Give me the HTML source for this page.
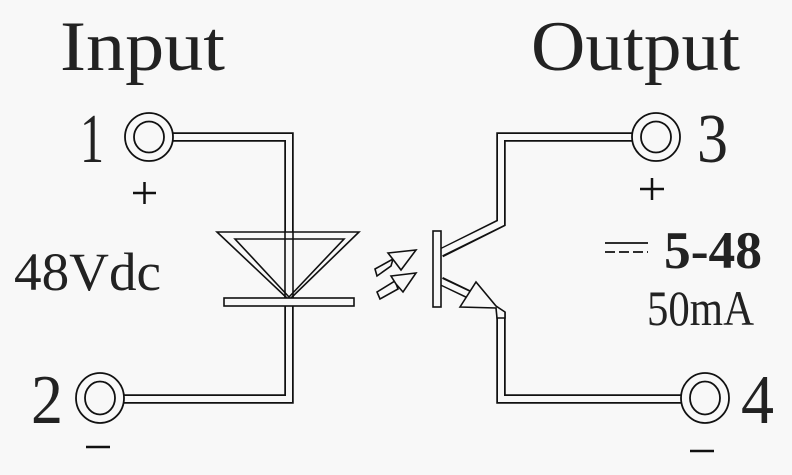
<!DOCTYPE html>
<html><head><meta charset="utf-8"><style>
html,body{margin:0;padding:0;background:#f8f8f8;}
svg{display:block}
text{fill:#222;}
</style></head><body>
<svg width="792" height="475" viewBox="0 0 792 475" xmlns="http://www.w3.org/2000/svg">
<rect width="792" height="475" fill="#f8f8f8"/>
<g font-family="Liberation Serif, serif">
<text x="60" y="70" font-size="71" textLength="165" lengthAdjust="spacingAndGlyphs">Input</text>
<text x="531" y="70" font-size="71" textLength="209" lengthAdjust="spacingAndGlyphs">Output</text>
<text x="80" y="162" font-size="70" textLength="24" lengthAdjust="spacingAndGlyphs">1</text>
<text x="697" y="162" font-size="70" textLength="31" lengthAdjust="spacingAndGlyphs">3</text>
<text x="31" y="423" font-size="70" textLength="32" lengthAdjust="spacingAndGlyphs">2</text>
<text x="741" y="423" font-size="70" textLength="33" lengthAdjust="spacingAndGlyphs">4</text>
<text x="14" y="290" font-size="54" textLength="147" lengthAdjust="spacingAndGlyphs">48Vdc</text>
<text x="664" y="268" font-size="53" font-weight="bold" textLength="98" lengthAdjust="spacingAndGlyphs">5-48</text>
<text x="647" y="325" font-size="50" textLength="107" lengthAdjust="spacingAndGlyphs">50mA</text>
</g>
<g stroke="#111" stroke-width="2.5">
<line x1="133" y1="193" x2="156" y2="193"/><line x1="144.5" y1="182" x2="144.5" y2="204"/>
<line x1="640" y1="189" x2="664" y2="189"/><line x1="652" y1="178" x2="652" y2="200"/>
<line x1="86" y1="447" x2="110" y2="447"/>
<line x1="690" y1="451" x2="714" y2="451"/>
<line x1="605" y1="243" x2="648" y2="243" stroke-width="1.8"/>
<line x1="605" y1="252" x2="648" y2="252" stroke-width="1.8" stroke-dasharray="10,4"/>
</g>
<g fill="none" stroke-linejoin="miter">
<g stroke="#111" stroke-width="9.5">
<polyline points="160,137 289,137 289,399 112,399"/>
<polyline points="644,137 501,137 501,223 441,253"/>
<polyline points="501,312 501,399 693,399"/>
<line x1="441" y1="281" x2="470" y2="295" stroke-width="9"/>
</g>
<g stroke="#f8f8f8" stroke-width="6">
<polyline points="160,137 289,137 289,399 112,399"/>
<polyline points="644,137 501,137 501,223 438,254"/>
<polyline points="501,312 501,399 693,399"/>
<line x1="438" y1="280" x2="472" y2="296" stroke-width="5.5"/>
</g>
</g>
<polygon points="217,232 359,232 289,300" fill="#f8f8f8" stroke="#111" stroke-width="1.6"/>
<polygon points="235,239 344,239 289,297" fill="#f8f8f8" stroke="#111" stroke-width="1.6"/>
<line x1="285" y1="232" x2="285" y2="298" stroke="#111" stroke-width="1.6"/>
<line x1="293" y1="232" x2="293" y2="298" stroke="#111" stroke-width="1.6"/>
<rect x="224" y="298" width="130" height="8" fill="#f8f8f8" stroke="#111" stroke-width="1.6"/>
<rect x="433" y="231" width="8" height="76" fill="#f8f8f8" stroke="#111" stroke-width="1.6"/>
<polygon points="460,307 476,282 496,306 505,312 505,318 497,318 496,308" fill="#f8f8f8" stroke="#111" stroke-width="1.6"/>
<g fill="#f8f8f8" stroke="#111" stroke-width="1.6" stroke-linejoin="miter">
<polygon points="375,269 393,259 391,266 377,276"/>
<polygon points="388,253 416,250 401,270 395,262"/>
<polygon points="377,292 395,281 398,289 380,299"/>
<polygon points="391,276 416,273 403,292 396,284"/>
</g>
<g fill="#f8f8f8" stroke="#111" stroke-width="1.8">
<ellipse cx="149" cy="137" rx="24" ry="24"/><ellipse cx="149" cy="137" rx="15" ry="15.5"/>
<ellipse cx="656" cy="137" rx="24" ry="24"/><ellipse cx="656" cy="137" rx="15" ry="15.5"/>
<ellipse cx="100" cy="398" rx="24" ry="25"/><ellipse cx="100" cy="398" rx="15" ry="16.5"/>
<ellipse cx="705" cy="398" rx="24" ry="25"/><ellipse cx="705" cy="398" rx="15" ry="16.5"/>
</g>
</svg>
</body></html>
